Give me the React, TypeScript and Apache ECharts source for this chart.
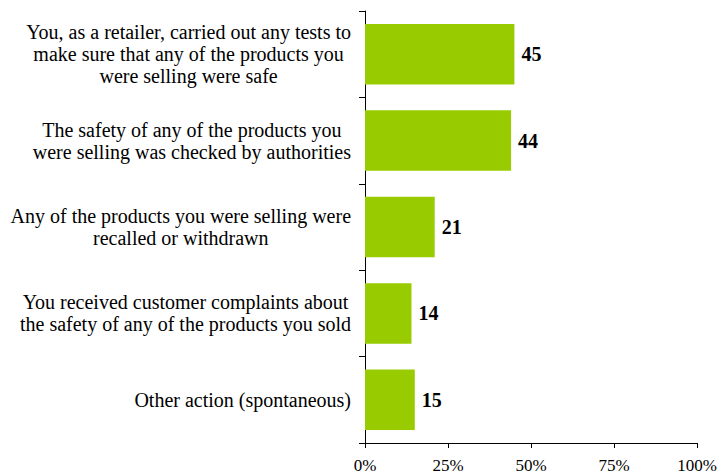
import React, { useEffect, useRef } from "react";
import * as echarts from "echarts";

const categories: string[] = [
  "You, as a retailer, carried out any tests to\nmake sure that any of the products you\nwere selling were safe",
  "The safety of any of the products you\nwere selling was checked by authorities",
  "Any of the products you were selling were\nrecalled or withdrawn",
  "You received customer complaints about\nthe safety of any of the products you sold",
  "Other action (spontaneous)",
];
const values: number[] = [45, 44, 21, 14, 15];
const xTicks = { min: 0, max: 100, interval: 25 };

export default function App() {
  const ref = useRef<HTMLDivElement>(null);
  useEffect(() => {
    if (!ref.current) return;
    const chart = echarts.init(ref.current, undefined, { renderer: "svg" });
    const font = "'Liberation Serif', 'DejaVu Serif', serif";
    chart.setOption({
      animation: false,
      backgroundColor: "#ffffff",
      grid: { left: 365, right: 26, top: 11, bottom: 30, containLabel: false },
      xAxis: {
        type: "value",
        min: xTicks.min,
        max: xTicks.max,
        interval: xTicks.interval,
        axisLine: { show: true, lineStyle: { color: "#000", width: 1 } },
        axisTick: { show: true, length: 5, lineStyle: { color: "#000" } },
        splitLine: { show: false },
        axisLabel: {
          formatter: "{value}%",
          color: "#000",
          fontFamily: font,
          fontSize: 17,
          margin: 14,
        },
      },
      yAxis: {
        type: "category",
        data: categories,
        inverse: true,
        axisLine: { show: true, lineStyle: { color: "#000", width: 1 } },
        axisTick: { show: true, length: 6, lineStyle: { color: "#000" } },
        axisLabel: {
          color: "#000",
          fontFamily: font,
          fontSize: 20,
          lineHeight: 22,
          margin: 14,
          formatter: (v: string) =>
            v
              .split("\n")
              .map((l) => `{c|${l}}`)
              .join("\n"),
          rich: {
            c: {
              align: "center",
              color: "#000",
              fontFamily: font,
              fontSize: 20,
              lineHeight: 22,
            },
          },
        },
      },
      series: [
        {
          type: "bar",
          data: values,
          barCategoryGap: "30%",
          itemStyle: { color: "#99CC00" },
          label: {
            show: true,
            position: "right",
            distance: 7,
            color: "#000",
            fontFamily: font,
            fontWeight: "bold",
            fontSize: 20,
          },
        },
      ],
    });
    return () => chart.dispose();
  }, []);
  return (
    <div
      ref={ref}
      style={{ position: "absolute", left: 0, top: 0, width: 723, height: 474 }}
    />
  );
}
